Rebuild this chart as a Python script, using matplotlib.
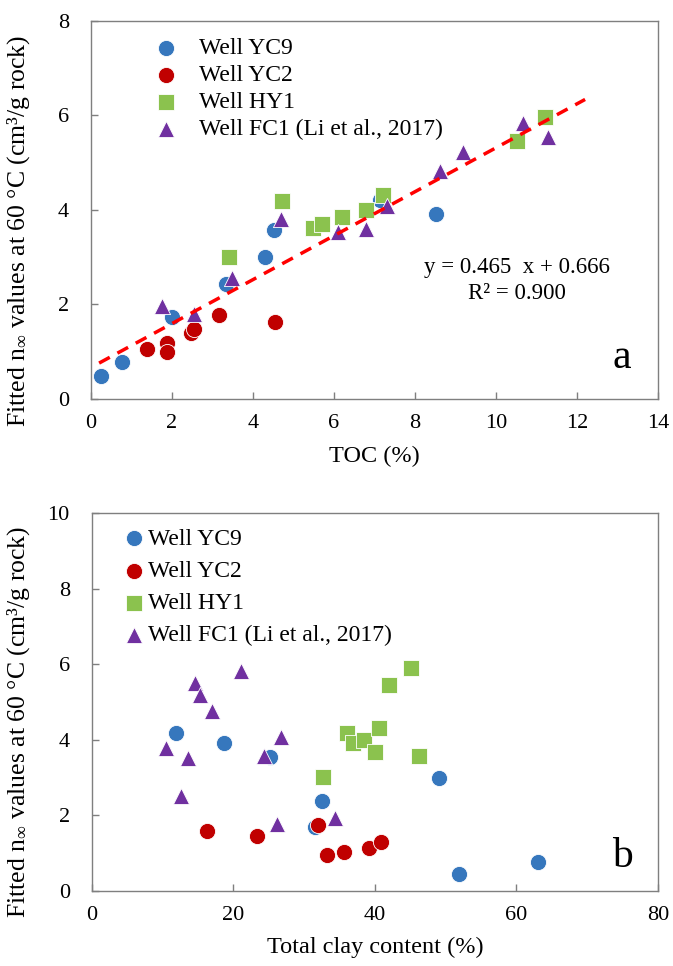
import matplotlib
matplotlib.use("Agg")
import matplotlib.pyplot as plt
import numpy as np

plt.rcParams["font.family"] = ["Liberation Serif", "DejaVu Serif"]
plt.rcParams["mathtext.fontset"] = "custom"
plt.rcParams["mathtext.rm"] = "Liberation Serif"
plt.rcParams["mathtext.it"] = "Liberation Serif:italic"

# ---- panel a: TOC (%) vs fitted n_inf ----
yc9_toc = [0.25, 0.77, 2.0, 3.33, 4.3, 4.52, 7.14, 8.52]
yc9_n_a = [0.48, 0.78, 1.73, 2.44, 3.01, 3.58, 4.21, 3.92]
yc2_toc = [1.38, 1.88, 1.88, 2.47, 2.54, 3.16, 4.54]
yc2_n_a = [1.05, 1.18, 0.99, 1.39, 1.49, 1.77, 1.62]
hy1_toc = [3.41, 4.72, 5.48, 5.70, 6.2, 6.79, 7.21, 10.52, 11.2]
hy1_n_a = [3.01, 4.19, 3.62, 3.71, 3.85, 4.0, 4.32, 5.47, 5.96]
fc1_toc = [1.75, 2.54, 3.48, 4.69, 6.1, 6.79, 7.31, 8.62, 9.19, 10.67, 11.28]
fc1_n_a = [1.96, 1.79, 2.55, 3.81, 3.54, 3.6, 4.08, 4.82, 5.22, 5.83, 5.54]

fit_slope = 0.465
fit_icpt = 0.666
fit_x = [0.2, 12.2]

# ---- panel b: total clay content (%) vs fitted n_inf ----
yc9_clay = [11.9, 18.7, 25.1, 32.5, 31.5, 49.1, 51.9, 63.1]
yc9_n_b = [4.19, 3.92, 3.55, 2.38, 1.70, 2.99, 0.45, 0.77]
yc2_clay = [16.3, 23.3, 31.9, 33.2, 35.6, 39.1, 40.9]
yc2_n_b = [1.59, 1.46, 1.75, 0.95, 1.03, 1.14, 1.30]
hy1_clay = [45.1, 42.0, 36.0, 36.9, 38.4, 40.6, 40.0, 46.2, 32.6]
hy1_n_b = [5.91, 5.46, 4.19, 3.92, 4.0, 4.32, 3.68, 3.58, 3.02]
fc1_clay = [14.5, 15.2, 17.0, 21.0, 10.5, 13.6, 12.6, 24.3, 26.7, 26.2, 34.3]
fc1_n_b = [5.51, 5.19, 4.77, 5.83, 3.79, 3.52, 2.52, 3.58, 4.08, 1.77, 1.93]

labels = ["Well YC9", "Well YC2", "Well HY1", "Well FC1 (Li et al., 2017)"]
colors = ["#3677BD", "#C00000", "#8BC24E", "#7030A0"]
markers = ["o", "o", "s", "^"]

ylabel = "Fitted n$_{\\infty}$ values at 60 \u00b0C (cm\u00b3/g rock)"
frame = "#7f7f7f"
ms = 135


def style_axes(ax):
    for sp in ax.spines.values():
        sp.set_color(frame)
        sp.set_linewidth(1.0)
    ax.tick_params(direction="in", length=5, width=1.0, color=frame,
                   labelsize=16, pad=11)
    ax.tick_params(axis="y", pad=16)


fig = plt.figure(figsize=(6.73, 9.66), dpi=100)

ax1 = fig.add_axes([0.1352, 0.5870, 0.8425, 0.3913])
series_a = [(yc9_toc, yc9_n_a), (yc2_toc, yc2_n_a), (hy1_toc, hy1_n_a), (fc1_toc, fc1_n_a)]
for (x, y), lab, c, m in zip(series_a, labels, colors, markers):
    ax1.scatter(x, y, s=ms, c=c, marker=m, edgecolors="white", linewidths=0.6,
                label=lab, zorder=3)
fx = np.array(fit_x)
ax1.plot(fx, fit_slope * fx + fit_icpt, color="#FF0000", lw=2.5,
         dashes=(3.5, 2.5), zorder=4)
ax1.set_xlim(0, 14)
ax1.set_ylim(0, 8)
ax1.set_xticks(np.arange(0, 15, 2))
ax1.set_yticks(np.arange(0, 9, 2))
style_axes(ax1)
ax1.set_xlabel("TOC (%)", fontsize=17.5)
ax1.xaxis.set_label_coords(0.5, -0.125)
ax1.set_ylabel(ylabel, fontsize=18.5)
ax1.yaxis.set_label_coords(-0.104, 0.444)
ax1.legend(loc="upper left", bbox_to_anchor=(0.095, 0.982), frameon=False,
           fontsize=17, handlelength=1.0, handletextpad=0.9, labelspacing=0.24,
           borderaxespad=0, scatterpoints=1)
ax1.text(0.751, 0.349, "y = 0.465  x + 0.666", transform=ax1.transAxes,
         ha="center", va="center", fontsize=16.5)
ax1.text(0.751, 0.280, "R\u00b2 = 0.900", transform=ax1.transAxes,
         ha="center", va="center", fontsize=16.5)
ax1.text(0.937, 0.108, "a", transform=ax1.transAxes, ha="center",
         va="center", fontsize=30)

ax2 = fig.add_axes([0.1367, 0.0776, 0.8410, 0.3913])
series_b = [(yc9_clay, yc9_n_b), (yc2_clay, yc2_n_b), (hy1_clay, hy1_n_b), (fc1_clay, fc1_n_b)]
for (x, y), lab, c, m in zip(series_b, labels, colors, markers):
    ax2.scatter(x, y, s=ms, c=c, marker=m, edgecolors="white", linewidths=0.6,
                label=lab, zorder=3)
ax2.set_xlim(0, 80)
ax2.set_ylim(0, 10)
ax2.set_xticks(np.arange(0, 81, 20))
ax2.set_yticks(np.arange(0, 11, 2))
style_axes(ax2)
ax2.set_xlabel("Total clay content (%)", fontsize=17.5)
ax2.xaxis.set_label_coords(0.5, -0.12)
ax2.set_ylabel(ylabel, fontsize=18.5)
ax2.yaxis.set_label_coords(-0.106, 0.447)
ax2.legend(loc="upper left", bbox_to_anchor=(0.04, 0.985), frameon=False,
           fontsize=17, handlelength=0.8, handletextpad=0.2, labelspacing=0.45,
           borderaxespad=0, scatterpoints=1)
ax2.text(0.937, 0.09, "b", transform=ax2.transAxes, ha="center",
         va="center", fontsize=30)

fig.savefig("out.png", dpi=100)
